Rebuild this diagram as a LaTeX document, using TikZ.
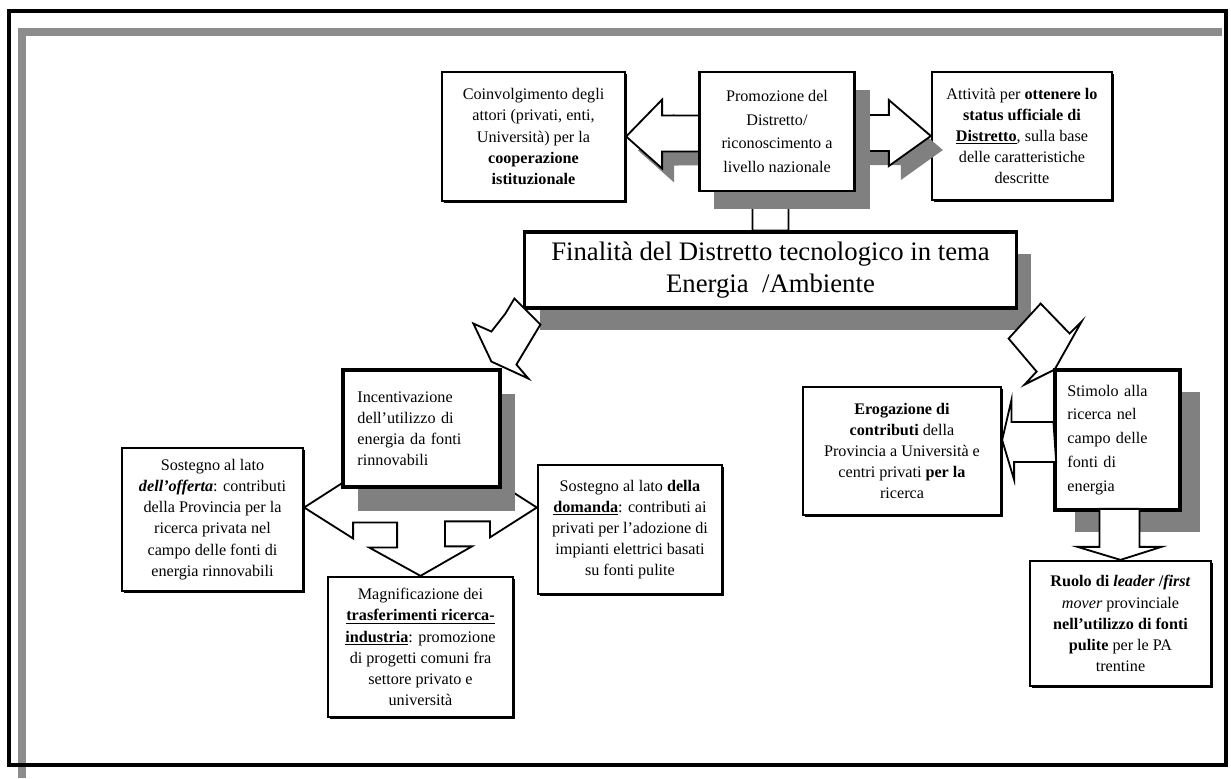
\documentclass[tikz,border=0pt]{standalone}
\usepackage{fontspec}
\setmainfont{Liberation Serif}
\usepackage{tikz}
\usetikzlibrary{calc,shadows,positioning}

\begin{document}
\begin{tikzpicture}[x=0.025cm,y=-0.025cm,
    box/.style={draw,line width=1.6pt,fill=white,inner sep=0pt,align=center,font=\fontsize{11.5}{15}\selectfont},
    thinshadow/.style={drop shadow={shadow xshift=1.5pt,shadow yshift=-1.5pt,fill=black,opacity=1}},
    grayshadow/.style n args={2}{drop shadow={shadow xshift=#1,shadow yshift=#2,fill=black!50,opacity=1}},
    blockarrow/.style={draw,fill=white,line width=1.3pt,line join=miter}]
    \useasboundingbox (0,0) rectangle (1231,778);

    %%%% cadre
    \draw [black!45,line width=5pt] (22,778) -- (22,32) -- (1222,32);
    \draw [line width=3pt] (9,11) rectangle (1226,765);

    \node (coinv) at (533.5,136.5) [box,thinshadow,minimum width=4.575cm,minimum height=3.225cm] {Coinvolgimento degli\\ attori (privati, enti,\\ Università) per la\\ \textbf{cooperazione}\\ \textbf{istituzionale}}; %
    \node (attiv) at (1022,136) [box,thinshadow,minimum width=4.5cm,minimum height=3.2cm] {Attività per \textbf{ottenere lo}\\ \textbf{status ufficiale di}\\ \underline{\textbf{Distretto}}, sulla base\\ delle caratteristiche\\ descritte}; %
    \node (fin) at (770.5,270) [box,line width=2.2pt,grayshadow={0.375cm}{-0.55cm},minimum width=12.275cm,minimum height=1.9cm,font=\fontsize{19}{23}\selectfont] {Finalità del Distretto tecnologico in tema\\ Energia\ \ /Ambiente}; %

    %%%% arcs
    \draw [blockarrow,grayshadow={0.3cm}{-0.35cm}] (coinv.east) -- ++(36,-37) -- ++(0,16) -- ($(attiv.west)+(-42,-21)$) -- ++(0,-15) -- (attiv.west) -- ++(-42,30) -- ++(0,-15) -- ($(coinv.east)+(36,15)$) -- ++(0,17) -- cycle; %
    \draw [blockarrow] (fin.north) -- ++(18,0) -- ++(0,-26) -- ++(17,0) -- ++(-35,-13) -- ++(-35,13) -- ++(17,0) -- ++(0,26) -- cycle; %

    \node (promo) at (777,131.5) [box,line width=2pt,grayshadow={0.375cm}{-0.45cm},minimum width=3.875cm,minimum height=2.975cm,font=\fontsize{11.5}{17}\selectfont] {Promozione del\\ Distretto/\\ riconoscimento a\\ livello nazionale}; %

    \draw [blockarrow] ($(fin.south west)+(-9,-11)$) -- ++(26,26) -- ++(-24,40) -- ++(12,14) -- ++(-37,-17) -- ++(-18,-38) -- ++(18,8) -- ++(14,-18) -- cycle; %
    \draw [blockarrow] ($(fin.south east)+(23,-6)$) -- ++(29,30) -- ++(12,-12) -- ++(-27,48) -- ++(-30,15) -- ++(12,-13) -- ++(-28,-33) -- cycle; %

    \node (offerta) at (212.5,519.5) [box,thinshadow,minimum width=4.525cm,minimum height=3.575cm] {Sostegno al lato\\ \textbf{\textit{dell'offerta}}: contributi\\ della Provincia per la\\ ricerca privata nel\\ campo delle fonti di\\ energia rinnovabili}; %
    \node (domanda) at (630,529.5) [box,thinshadow,minimum width=4.6cm,minimum height=3.225cm] {Sostegno al lato \textbf{della}\\ \underline{\textbf{domanda}}: contributi ai\\ privati per l'adozione di\\ impianti elettrici basati\\ su fonti pulite}; %
    \node (magn) at (420.5,647) [box,thinshadow,minimum width=4.625cm,minimum height=3.5cm] {Magnificazione dei\\ \underline{\textbf{trasferimenti ricerca-}}\\ \underline{\textbf{industria}}: promozione\\ di progetti comuni fra\\ settore privato e\\ università}; %

    \coordinate (lt) at ($(offerta.east)+(0,-12)$); %
    \coordinate (rt) at ($(domanda.west)+(0,-22)$); %
    \draw [blockarrow] (lt) -- ++(49,31) -- ++(0,-16) -- ++(44,0) -- ++(0,25) -- ++(-28,0) -- (magn.north) -- ++(51.5,-29.5) -- ++(-27,0) -- ++(0,-25) -- ++(45,0) -- ++(0,16) -- (rt) -- ++(-40,-25.5) -- ++(-153,0) -- cycle; %

    \node (incent) at (421.5,428.5) [box,line width=2.2pt,grayshadow={0.375cm}{-0.6cm},minimum width=3.925cm,minimum height=2.925cm,text width=3.2cm,align=left] {Incentivazione\\ dell'utilizzo di\\ energia da fonti\\ rinnovabili}; %

    \node (eroga) at (902,451) [box,thinshadow,minimum width=4.95cm,minimum height=3.2cm] {\textbf{Erogazione di}\\ \textbf{contributi} della\\ Provincia a Università e\\ centri privati \textbf{per la}\\ ricerca}; %
    \node (stimolo) at (1117.5,440) [box,line width=2.2pt,grayshadow={0.5cm}{-0.55cm},minimum width=3.125cm,minimum height=3.5cm,text width=2.5cm,align=left,font=\fontsize{11.5}{17}\selectfont] {Stimolo alla\\ ricerca nel\\ campo delle\\ fonti di\\ energia}; %
    \node (ruolo) at (1120.5,623.5) [box,thinshadow,minimum width=4.525cm,minimum height=3.125cm] {\textbf{Ruolo di \textit{leader} /\textit{first}}\\ \textit{mover} provinciale\\ \textbf{nell'utilizzo di fonti}\\ \textbf{pulite} per le PA\\ trentine}; %

    \draw [blockarrow] ($(stimolo.west)+(0,-18)$) -- ++(-42,0) -- ++(0,-22) -- (eroga.east |- stimolo.west) -- ++(12,40) -- ++(0,-18) -- ++(42,0) -- cycle; %
    \draw [blockarrow] (ruolo.north) -- ++(-43,-13) -- ++(22,0) -- ++(0,-38) -- ++(40,0) -- ++(0,38) -- ++(22,0) -- cycle; %
\end{tikzpicture}
\end{document}
